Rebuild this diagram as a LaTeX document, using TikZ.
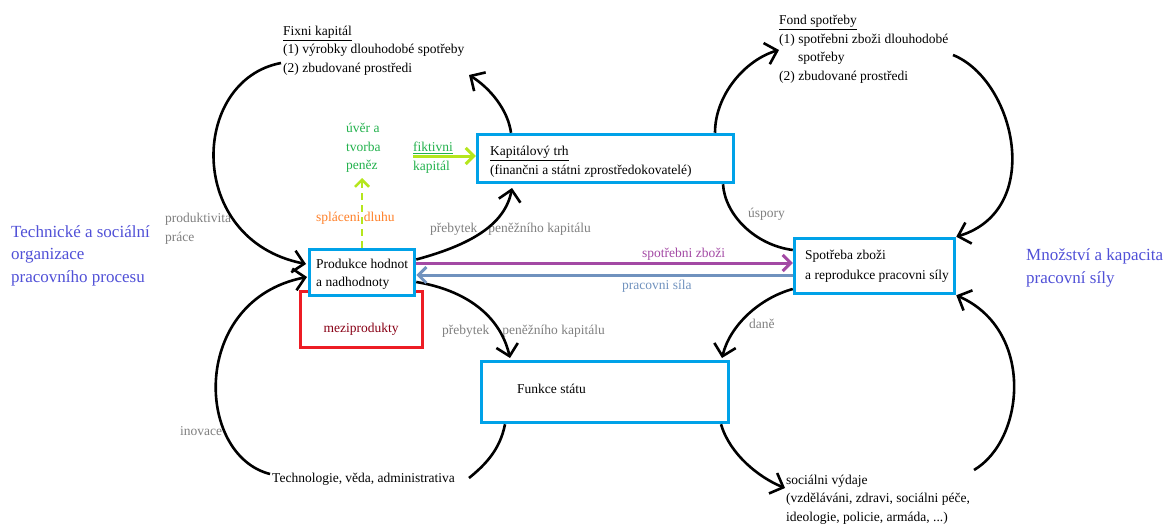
\documentclass[tikz,border=0pt]{standalone}
\usepackage{fontspec}
\setmainfont{Liberation Serif}
\usetikzlibrary{arrows.meta,calc}
\definecolor{boxcyan}{RGB}{0,162,232}
\definecolor{redbox}{RGB}{237,28,36}
\definecolor{darkred}{RGB}{136,0,21}
\definecolor{bigblue}{RGB}{80,80,215}
\definecolor{grn}{RGB}{34,177,76}
\definecolor{limeg}{RGB}{181,230,29}
\definecolor{orng}{RGB}{255,127,39}
\definecolor{gry}{RGB}{127,127,127}
\definecolor{purp}{RGB}{163,73,164}
\definecolor{steelb}{RGB}{112,146,190}
\newcommand{\fsn}{\fontsize{13.5}{16}\selectfont}
\newcommand{\fsb}{\fontsize{17}{20}\selectfont}
\tikzset{
  txt/.style={anchor=base west, inner sep=0pt, font=\fsn},
  big/.style={anchor=base west, inner sep=0pt, font=\fsb, text=bigblue},
  box/.style={draw=boxcyan, line width=3.5pt, fill=white, inner sep=0pt},
  curve/.style={line width=2.6pt, draw=black},
  arr/.style={curve, -{Straight Barb[length=11pt,width=22pt]}},
  carr/.style={line width=3pt, -{Straight Barb[length=8pt,width=16pt]}},
}
\begin{document}
\begin{tikzpicture}[x=1pt,y=-1pt]
\useasboundingbox (0,0) rectangle (1169,524);

% boxes
\node[draw=redbox, line width=3pt, minimum width=122pt, minimum height=56pt, inner sep=0pt] (mezi) at (361.5,319.5) {};
\node[box, minimum width=105pt, minimum height=46pt] (prod) at (362,272.5) {};
\node[box, minimum width=256pt, minimum height=48pt] (kap) at (605.5,158.5) {};
\node[box, minimum width=160pt, minimum height=55pt] (spot) at (874.5,266) {};
\node[box, minimum width=247pt, minimum height=61pt] (fun) at (605,392) {};

% box texts
\node[txt] (prodA) at (316,268.5) {Produkce hodnot};
\node[txt] (prodB) at (316,286.5) {a nadhodnoty};
\node[txt] (kapA) at (490,155.5) {\underline{Kapitálový trh}};
\node[txt] (kapB) at (490,174.5) {(finančni a státni zprostředokovatelé)};
\node[txt] (spotA) at (805,259.5) {Spotřeba zboži};
\node[txt] (spotB) at (805,279.5) {a reprodukce pracovni síly};
\node[txt] (funA) at (517,393.5) {Funkce státu};
\node[anchor=base, inner sep=0pt, font=\fsn, text=darkred] (meziT) at (361,332.5) {meziprodukty};

% free texts
\node[txt] (fixA) at (283,35.5) {\underline{Fixni kapitál}};
\node[txt] (fixB) at (283,53.5) {(1) výrobky dlouhodobé spotřeby};
\node[txt] (fixC) at (283,72.5) {(2) zbudované prostředi};
\node[txt] (fondA) at (779,24.5) {\underline{Fond spotřeby}};
\node[txt] (fondB) at (779,43.5) {(1) spotřebni zboži dlouhodobé};
\node[txt] (fondC) at (798,61.5) {spotřeby};
\node[txt] (fondD) at (779,80.5) {(2) zbudované prostředi};
\node[txt] (tech) at (272,482.5) {Technologie, věda, administrativa};
\node[txt] (socA) at (786,484.5) {sociálni výdaje};
\node[txt] (socB) at (786,502.5) {(vzděláváni, zdravi, sociálni péče,};
\node[txt] (socC) at (786,521.5) {ideologie, policie, armáda, ...)};

\node[txt, text=grn] (uvA) at (346,132.5) {úvěr a};
\node[txt, text=grn] (uvB) at (346,151.5) {tvorba};
\node[txt, text=grn] (uvC) at (346,169.5) {peněz};
\node[txt, text=grn] (fikA) at (413,151.5) {\underline{fiktivni}};
\node[txt, text=grn] (fikB) at (413,170.5) {kapitál};
\node[txt, text=orng] (splac) at (316,221.5) {spláceni dluhu};
\node[txt, text=gry] (prodkA) at (165,222.5) {produktivita};
\node[txt, text=gry] (prodkB) at (165,241.5) {práce};
\node[txt, text=gry] (preb1) at (430,232.5) {přebytek\hspace{11pt}peněžního kapitálu};
\node[txt, text=gry] (preb2) at (442,334.5) {přebytek\hspace{13pt}peněžního kapitálu};
\node[txt, text=purp] (spz) at (642,257.5) {spotřebni zboži};
\node[txt, text=steelb] (prs) at (622,289.5) {pracovni síla};
\node[txt, text=gry] (usp) at (748,217.5) {úspory};
\node[txt, text=gry] (dane) at (749,328.5) {daně};
\node[txt, text=gry] (inov) at (180,435.5) {inovace};

\node[big] (tsA) at (11,237.5) {Technické a sociální};
\node[big] (tsB) at (11,259.5) {organizace};
\node[big] (tsC) at (11,282.5) {pracovního procesu};
\node[big] (mnA) at (1026,260.5) {Množství a kapacita};
\node[big] (mnB) at (1026,283.5) {pracovní síly};

% free curve ends
\coordinate (fixL) at (281,63);
\coordinate (fixR) at (469,75);
\coordinate (fondL) at (779,50);
\coordinate (fondR) at (953,55);
\coordinate (techL) at (270,474);
\coordinate (techR) at (469,478);
\coordinate (socL) at (785,488);
\coordinate (socR) at (974,470);
\coordinate (dashTop) at (362,178);
\coordinate (fikStart) at (413,156);

% black curves
\draw[arr] (fixL) .. controls (190,80) and (185,240) .. (306,264);
\draw[arr] (techL) .. controls (195,455) and (190,300) .. (307,277);
\draw[arr] ([yshift=13pt]prod.east) .. controls (470,245) and (505,225) .. (512,188);
\draw[arr] ([xshift=-94.5pt]kap.north) .. controls (508,110) and (490,88) .. (fixR);
\draw[arr] ([xshift=109.5pt]kap.north) .. controls (715,95) and (745,60) .. (fondL);
\draw[arr] (fondR) .. controls (1015,80) and (1045,210) .. (spot.north east);
\draw[curve] ([xshift=117.5pt]kap.south) .. controls (725,215) and (755,245) .. ([yshift=16pt]spot.west);
\draw[arr] ([yshift=-23pt]spot.west) .. controls (760,298) and (730,325) .. (722,358);
\draw[arr] ([yshift=-9.5pt]prod.east) .. controls (465,290) and (500,315) .. (510,358);
\draw[curve] ([xshift=-100pt]fun.south) .. controls (500,450) and (485,465) .. (techR);
\draw[arr] ([xshift=116pt]fun.south) .. controls (730,455) and (760,478) .. (socL);
\draw[arr] (socR) .. controls (1025,440) and (1035,330) .. (spot.south east);

% coloured arrows
\draw[purp, carr] ([yshift=9.5pt]prod.east) -- ([yshift=9.5pt]prod.east -| spot.west);
\draw[steelb, carr] ([yshift=-2.5pt]prod.east -| spot.west) -- ([yshift=-2.5pt]prod.east);
\draw[limeg, carr] (fikStart) -- (fikStart -| kap.west);
\draw[limeg, line width=2.5pt, dash pattern=on 7pt off 5pt, -{Straight Barb[length=7pt,width=14pt]}] (prod.north) -- (dashTop);
\end{tikzpicture}
\end{document}
